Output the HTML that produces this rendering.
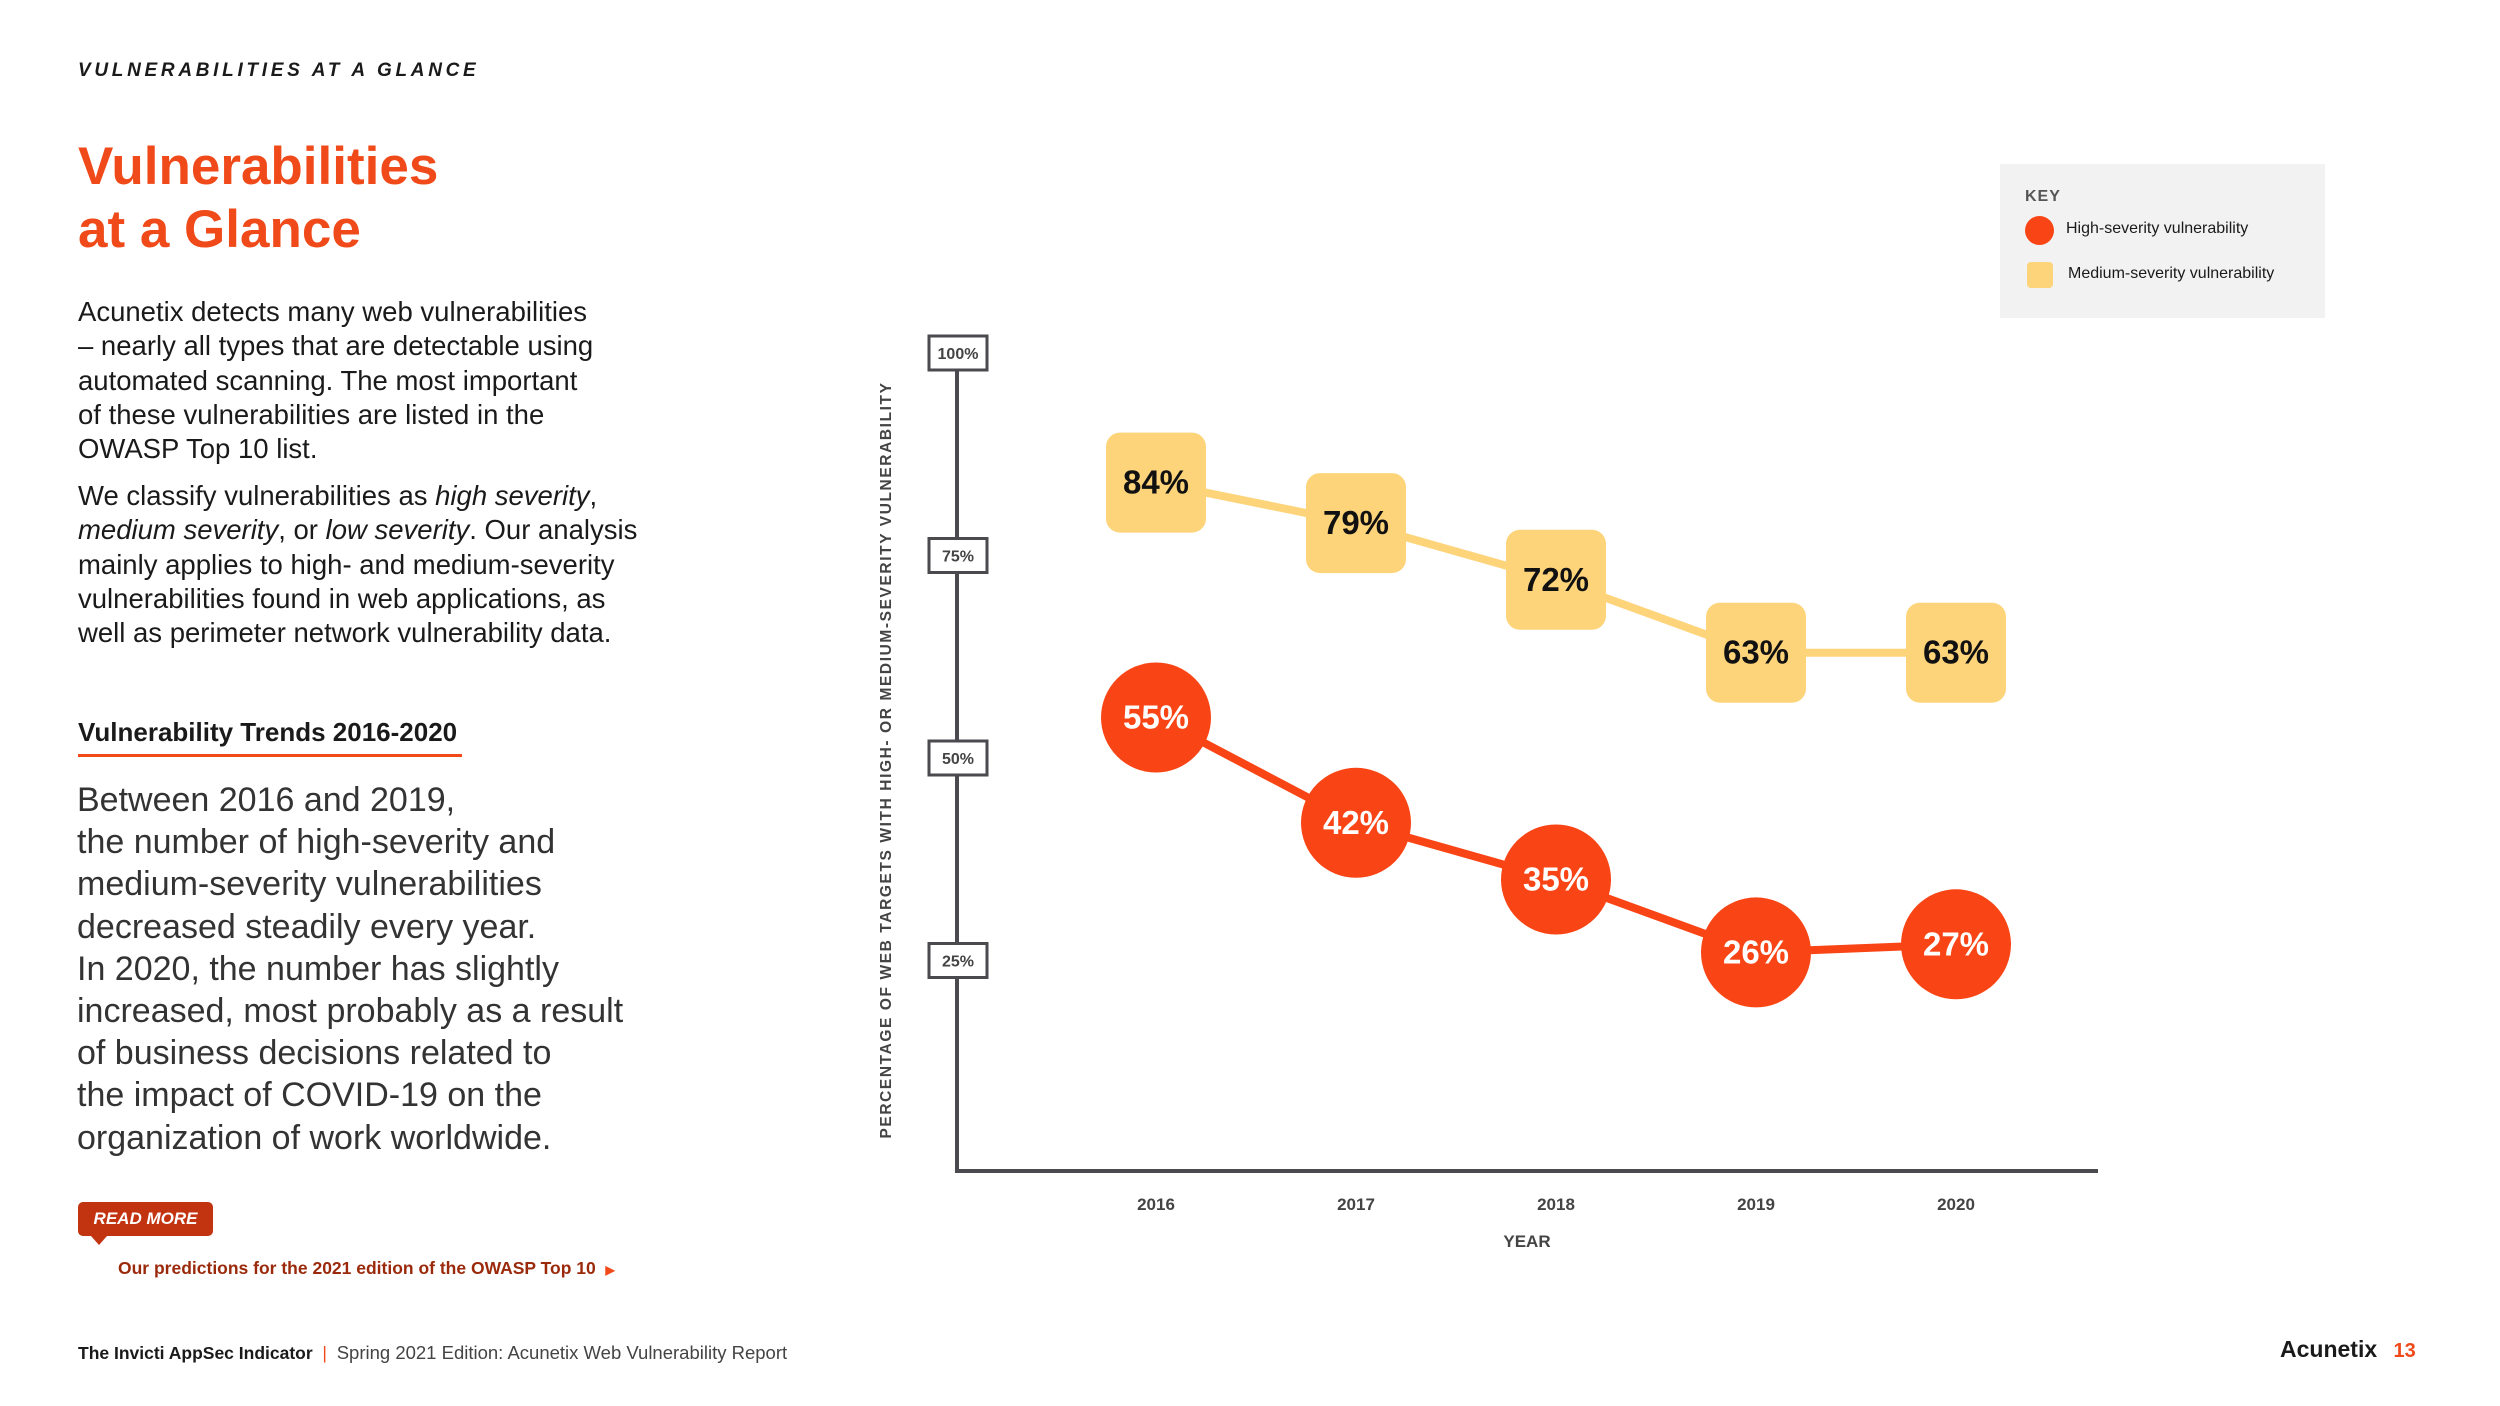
<!DOCTYPE html>
<html><head><meta charset="utf-8"><style>
body{margin:0;width:2500px;height:1406px;background:#fff;position:relative;overflow:hidden;font-family:"Liberation Sans",sans-serif;color:#1a1a1a}
.a{position:absolute;white-space:nowrap}
</style></head><body>
<div class="a" style="left:78px;top:60px;font-size:19px;font-weight:bold;font-style:italic;letter-spacing:3.7px">VULNERABILITIES AT A GLANCE</div>
<div class="a" style="left:78px;top:135px;font-size:53px;font-weight:bold;color:#f04a1a;line-height:63px">Vulnerabilities<br>at a Glance</div>
<div class="a" style="left:78px;top:295px;font-size:27.5px;line-height:34.3px">Acunetix detects many web vulnerabilities<br>– nearly all types that are detectable using<br>automated scanning. The most important<br>of these vulnerabilities are listed in the<br>OWASP Top 10 list.</div>
<div class="a" style="left:78px;top:479px;font-size:27.5px;line-height:34.3px">We classify vulnerabilities as <i>high severity</i>,<br><i>medium severity</i>, or <i>low severity</i>. Our analysis<br>mainly applies to high- and medium-severity<br>vulnerabilities found in web applications, as<br>well as perimeter network vulnerability data.</div>
<div class="a" style="left:78px;top:717px;font-size:26px;font-weight:bold">Vulnerability Trends 2016-2020</div>
<div class="a" style="left:78px;top:754px;width:384px;height:3px;background:#f04a1a"></div>
<div class="a" style="left:77px;top:779px;font-size:34px;line-height:42.2px;color:#333">Between 2016 and 2019,<br>the number of high-severity and<br>medium-severity vulnerabilities<br>decreased steadily every year.<br>In 2020, the number has slightly<br>increased, most probably as a result<br>of business decisions related to<br>the impact of COVID-19 on the<br>organization of work worldwide.</div>
<div class="a" style="left:78px;top:1202px;width:135px;height:34px;background:#c2330f;border-radius:5px;color:#fff;font-size:17px;font-weight:bold;font-style:italic;line-height:34px;text-align:center">READ MORE</div>
<div class="a" style="left:91px;top:1236px;width:0;height:0;border-left:8px solid transparent;border-right:8px solid transparent;border-top:9px solid #c2330f"></div>
<div class="a" style="left:118px;top:1258px;font-size:17.5px;font-weight:bold;color:#9b2a0c">Our predictions for the 2021 edition of the OWASP Top 10 &nbsp;<span style="font-size:12px;color:#f04a1a">▶</span></div>
<div class="a" style="left:78px;top:1342px;font-size:17.5px"><b>The Invicti AppSec Indicator</b> <span style="color:#f04a1a">&nbsp;|&nbsp;</span> <span style="color:#444;font-size:18.5px">Spring 2021 Edition: Acunetix Web Vulnerability Report</span></div>
<div class="a" style="left:2280px;top:1336px;font-size:23px;font-weight:bold">Acunetix <span style="color:#f04a1a;font-size:20px;margin-left:10px">13</span></div>

<div class="a" style="left:2000px;top:164px;width:325px;height:154px;background:#f2f2f2">
 <div class="a" style="left:25px;top:24px;font-size:16px;font-weight:bold;color:#555;letter-spacing:1px">KEY</div>
 <div class="a" style="left:25px;top:52px;width:29px;height:29px;border-radius:50%;background:#f94515"></div>
 <div class="a" style="left:66px;top:56px;font-size:16px">High-severity vulnerability</div>
 <div class="a" style="left:27px;top:98px;width:26px;height:26px;border-radius:4px;background:#fdd47a"></div>
 <div class="a" style="left:68px;top:101px;font-size:16px">Medium-severity vulnerability</div>
</div>

<svg class="a" id="chart" style="left:0;top:0" width="2500" height="1406"></svg>
<script>
const years=["2016","2017","2018","2019","2020"];
const highValues=[55,42,35,26,27];
const mediumValues=[84,79,72,63,63];
const yTicks=[100,75,50,25];
const NS="http://www.w3.org/2000/svg";
const svg=document.getElementById('chart');
function x(i){return 1156+i*200;}
function y(v){return 1163-8.1*v;}
function mk(t,a,p){const e=document.createElementNS(NS,t);for(const k in a)e.setAttribute(k,a[k]);(p||svg).appendChild(e);return e;}
let ax=mk('line',{x1:957,y1:346,x2:957,y2:1172,stroke:'#4a4a4f','stroke-width':4});

let bx=mk('line',{x1:955,y1:1171,x2:2098,y2:1171,stroke:'#4a4a4f','stroke-width':4});

yTicks.forEach(v=>{
 const r=mk('rect',{x:929,y:y(v)-17,width:58,height:34,fill:'#fff',stroke:'#4a4a4f','stroke-width':3});
 
 const t=mk('text',{x:958,y:y(v)+6,'text-anchor':'middle','font-size':16,'font-weight':'bold',fill:'#444','font-family':'Liberation Sans'});
 t.textContent=v+'%';
 
});
const yt=mk('text',{x:0,y:0,transform:'translate(891,760) rotate(-90)','text-anchor':'middle','font-size':15.5,'font-weight':'bold',fill:'#444','letter-spacing':'1.6','font-family':'Liberation Sans'});
yt.textContent='PERCENTAGE OF WEB TARGETS WITH HIGH- OR MEDIUM-SEVERITY VULNERABILITY';

years.forEach((yr,i)=>{
 const t=mk('text',{x:x(i),y:1210,'text-anchor':'middle','font-size':17,'font-weight':'bold',fill:'#444','font-family':'Liberation Sans'});
 t.textContent=yr;
});
const xt=mk('text',{x:1527,y:1247,'text-anchor':'middle','font-size':17,'font-weight':'bold',fill:'#444','font-family':'Liberation Sans'});
xt.textContent='YEAR';
function pts(vals){return vals.map((v,i)=>x(i)+','+y(v)).join(' ');}
const ml=mk('polyline',{points:pts(mediumValues),fill:'none',stroke:'#fdd47a','stroke-width':8});

const hl=mk('polyline',{points:pts(highValues),fill:'none',stroke:'#f94515','stroke-width':8});

mediumValues.forEach((v,i)=>{
 const r=mk('rect',{x:x(i)-50,y:y(v)-50,width:100,height:100,rx:14,fill:'#fdd47a'});
 
 const t=mk('text',{x:x(i),y:y(v)+11,'text-anchor':'middle','font-size':33,'font-weight':'bold',fill:'#111','font-family':'Liberation Sans'});
 t.textContent=v+'%';
});
highValues.forEach((v,i)=>{
 const c=mk('circle',{cx:x(i),cy:y(v),r:55,fill:'#f94515'});
 
 const t=mk('text',{x:x(i),y:y(v)+11,'text-anchor':'middle','font-size':33,'font-weight':'bold',fill:'#fff','font-family':'Liberation Sans'});
 t.textContent=v+'%';
});
</script>
</body></html>
